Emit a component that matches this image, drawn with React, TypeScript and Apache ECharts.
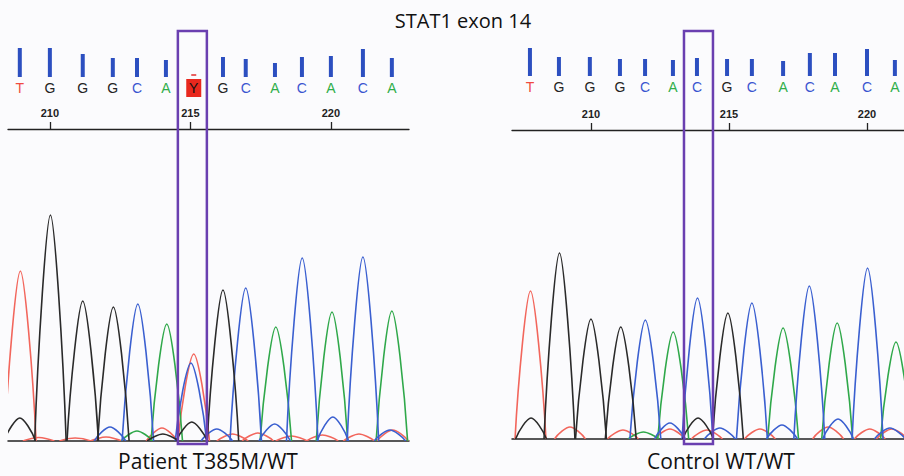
import React, { useEffect, useRef } from "react";
import * as echarts from "echarts";

// ---------- data ----------
const tickLabels = [210, 215, 220];

const leftBases = ["T", "G", "G", "G", "C", "A", "Y", "G", "C", "A", "C", "A", "C", "A"];
const leftBasePos = [208.93, 210.0, 211.17, 212.24, 213.1, 214.13, 215.12, 216.16, 216.97, 218.01, 218.97, 220.0, 221.14, 222.17];
const leftQuality = [58, 58, 46, 38, 38, 34, 0, 40, 36, 28, 40, 42, 56, 38];

const rightBases = ["T", "G", "G", "G", "C", "A", "C", "G", "C", "A", "C", "A", "C", "A"];
const rightBasePos = [207.79, 208.84, 209.96, 211.05, 211.96, 212.97, 213.84, 214.93, 215.83, 216.96, 217.93, 218.84, 220.0, 221.01];
const rightQuality = [56, 38, 38, 34, 34, 32, 36, 34, 34, 30, 46, 46, 54, 32];

const leftRange = [208.51, 222.78];
const rightRange = [207.14, 221.34];
const leftBox = [214.555, 215.587];
const rightBox = [213.37, 214.42];

// peaks: [position, intensity, half-width (optional)]
const leftT = [[208.95, 1700], [215.12, 870], [209.6, 35, 0.9], [210.9, 30, 0.8], [212.0, 40, 0.8], [213.99, 130, 0.5], [216.5, 70, 0.8], [217.4, 80, 0.8], [218.6, 50, 0.8], [219.7, 60, 0.8], [221.0, 70, 0.8], [222.2, 110, 0.6]];
const leftG = [[210.02, 2260], [211.17, 1400], [212.26, 1340], [216.16, 1510], [208.93, 230, 0.4], [215.05, 190, 0.45], [214.02, 70, 0.4]];
const leftC = [[213.13, 1370], [215.02, 780], [216.97, 1530], [218.98, 1830], [221.14, 1840], [212.14, 140, 0.4], [215.94, 120, 0.4], [218.0, 170, 0.45], [220.07, 240, 0.45], [222.1, 110, 0.4]];
const leftA = [[214.16, 1170], [218.04, 1140], [220.04, 1290], [222.17, 1300], [213.1, 100, 0.4]];

const rightT = [[207.81, 1480], [209.24, 120, 0.5], [211.16, 90, 0.6], [212.86, 100, 0.5], [214.2, 90, 0.7], [216.12, 100, 0.6], [218.59, 120, 0.5], [220.1, 100, 0.5], [220.9, 100, 0.5]];
const rightG = [[208.86, 1860], [210.0, 1200], [211.08, 1120], [214.96, 1260], [207.83, 210, 0.4], [213.88, 210, 0.45]];
const rightC = [[211.97, 1190], [213.86, 1410], [215.83, 1360], [217.91, 1530], [220.02, 1710], [212.86, 160, 0.45], [214.67, 110, 0.4], [216.92, 140, 0.4], [218.95, 200, 0.45], [220.83, 110, 0.4]];
const rightA = [[212.98, 1070], [216.96, 1110], [218.92, 1160], [221.05, 970], [211.9, 70, 0.4]];

// ---------- styling ----------
const traceColors: Record<string, string> = { A: "#2fa84a", C: "#3a5fd0", G: "#2a2a2a", T: "#f2665c" };
const letterColors: Record<string, string> = { A: "#2fae4a", C: "#3a55d0", G: "#222222", T: "#f04a40", Y: "#111111" };

function peakSeries(data: number[][], color: string, gridIdx: number) {
  return {
    type: "custom",
    xAxisIndex: gridIdx,
    yAxisIndex: gridIdx,
    clip: true,
    z: 3,
    encode: { x: 0, y: 1 },
    data,
    renderItem: (params: any, api: any) => {
      const x = api.value(0);
      const h = api.value(1);
      let w = api.value(2);
      if (w == null || isNaN(w)) w = 0.56;
      const p0 = api.coord([x - w, 0]);
      const pk = api.coord([x, h]);
      const p1 = api.coord([x + w, 0]);
      const dl = pk[0] - p0[0];
      const dr = p1[0] - pk[0];
      const hh = p0[1] - pk[1];
      const d =
        `M${p0[0]} ${p0[1]} C${p0[0] + 0.2 * dl} ${p0[1] - 0.4 * hh} ${pk[0] - 0.25 * dl} ${pk[1]} ${pk[0]} ${pk[1]} ` +
        `C${pk[0] + 0.25 * dr} ${pk[1]} ${p1[0] - 0.2 * dr} ${p1[1] - 0.4 * hh} ${p1[0]} ${p1[1]}`;
      return {
        type: "path",
        shape: { pathData: d },
        style: { stroke: color, fill: "none", lineWidth: 1.6 },
      };
    },
  };
}

function baseSeries(bases: string[], pos: number[], qual: number[], gridIdx: number) {
  return {
    type: "custom",
    xAxisIndex: gridIdx,
    yAxisIndex: gridIdx,
    encode: { x: 0, y: 1 },
    data: pos.map((p, i) => [p, qual[i]]),
    renderItem: (params: any, api: any) => {
      const i = params.dataIndex;
      const b = bases[i];
      const top = api.coord([api.value(0), api.value(1)]);
      const bot = api.coord([api.value(0), 0]);
      const children: any[] = [];
      if (api.value(1) > 0) {
        children.push({
          type: "rect",
          shape: { x: bot[0] - 2, y: top[1], width: 4, height: bot[1] - top[1] },
          style: { fill: "#2c4fc0" },
        });
      }
      if (b === "Y") {
        children.push({ type: "rect", shape: { x: bot[0] - 7.5, y: bot[1] + 2, width: 15, height: 18 }, style: { fill: "#e8281e" } });
        children.push({ type: "rect", shape: { x: bot[0] - 2.5, y: bot[1] - 3, width: 5, height: 2 }, style: { fill: "#e86060" } });
      }
      children.push({
        type: "text",
        style: {
          text: b,
          x: bot[0],
          y: bot[1] + 11,
          align: "center",
          verticalAlign: "middle",
          fill: letterColors[b],
          fontSize: 14,
          fontFamily: "Liberation Sans, Arial, sans-serif",
        },
      });
      return { type: "group", children };
    },
  };
}

function boxSeries(box: number[], gridIdx: number) {
  return {
    type: "custom",
    xAxisIndex: gridIdx,
    yAxisIndex: gridIdx,
    z: 10,
    encode: { x: [0, 1], y: [2, 3] },
    data: [[box[0], box[1], 0, 1]],
    renderItem: (params: any, api: any) => {
      const a = api.coord([api.value(0), api.value(3)]);
      const b = api.coord([api.value(1), api.value(2)]);
      return {
        type: "rect",
        shape: { x: a[0], y: a[1], width: b[0] - a[0], height: b[1] - a[1] },
        style: { fill: "none", stroke: "#6a3fb0", lineWidth: 2.5 },
      };
    },
  };
}

type PanelCfg = {
  left: number;
  width: number;
  range: number[];
  qualBottom: number;
  axisY: number;
  baseY: number;
  box: number[];
  bases: string[];
  pos: number[];
  qual: number[];
  T: number[][];
  G: number[][];
  C: number[][];
  A: number[][];
};

function buildPanel(p: number, c: PanelCfg) {
  const g0 = p * 4;
  const grids = [
    { left: c.left, width: c.width, top: c.qualBottom - 30, height: 30 },
    { left: c.left, width: c.width, top: c.axisY - 29, height: 29 },
    { left: c.left, width: c.width, top: c.baseY - 240, height: 240 },
    { left: c.left, width: c.width, top: 31, height: 413 },
  ];
  const hiddenX = (gi: number) => ({
    type: "value",
    gridIndex: gi,
    min: c.range[0],
    max: c.range[1],
    show: false,
  });
  const xAxes = [
    hiddenX(g0),
    {
      type: "value",
      gridIndex: g0 + 1,
      min: c.range[0],
      max: c.range[1],
      position: "bottom",
      axisLine: { show: true, lineStyle: { color: "#222", width: 1.3 } },
      axisTick: { show: true, inside: true, length: 7, customValues: tickLabels, lineStyle: { color: "#222", width: 1.3 } },
      axisLabel: {
        show: true,
        inside: true,
        margin: 11,
        customValues: tickLabels,
        fontSize: 11,
        fontWeight: "bold",
        color: "#222",
        fontFamily: "Liberation Sans, Arial, sans-serif",
      },
      splitLine: { show: false },
    },
    {
      type: "value",
      gridIndex: g0 + 2,
      min: c.range[0],
      max: c.range[1],
      position: "bottom",
      axisLine: { show: true, onZero: false, lineStyle: { color: "#222", width: 1.5 } },
      axisTick: { show: false },
      axisLabel: { show: false },
      splitLine: { show: false },
    },
    hiddenX(g0 + 3),
  ];
  const yAxes = [
    { type: "value", gridIndex: g0, min: 0, max: 60, show: false },
    { type: "value", gridIndex: g0 + 1, min: 0, max: 1, show: false },
    { type: "value", gridIndex: g0 + 2, min: 0, max: 2400, show: false },
    { type: "value", gridIndex: g0 + 3, min: 0, max: 1, show: false },
  ];
  const series = [
    baseSeries(c.bases, c.pos, c.qual, g0),
    peakSeries(c.T, traceColors.T, g0 + 2),
    peakSeries(c.A, traceColors.A, g0 + 2),
    peakSeries(c.C, traceColors.C, g0 + 2),
    peakSeries(c.G, traceColors.G, g0 + 2),
    boxSeries(c.box, g0 + 3),
  ];
  return { grids, xAxes, yAxes, series };
}

export default function App() {
  const ref = useRef<HTMLDivElement>(null);
  useEffect(() => {
    if (!ref.current) return;
    const chart = echarts.init(ref.current, null, { renderer: "svg" });
    const L = buildPanel(0, {
      left: 8, width: 401, range: leftRange, qualBottom: 77, axisY: 129, baseY: 441, box: leftBox,
      bases: leftBases, pos: leftBasePos, qual: leftQuality, T: leftT, G: leftG, C: leftC, A: leftA,
    });
    const R = buildPanel(1, {
      left: 512, width: 392, range: rightRange, qualBottom: 76, axisY: 130, baseY: 439, box: rightBox,
      bases: rightBases, pos: rightBasePos, qual: rightQuality, T: rightT, G: rightG, C: rightC, A: rightA,
    });
    const font = "Open Sans, Noto Sans, sans-serif";
    chart.setOption({
      animation: false,
      backgroundColor: "#fbfbfd",
      grid: [...L.grids, ...R.grids],
      xAxis: [...L.xAxes, ...R.xAxes],
      yAxis: [...L.yAxes, ...R.yAxes],
      series: [...L.series, ...R.series],
      graphic: [
        { type: "text", x: 463, y: 20, style: { text: "STAT1 exon 14", fontSize: 20, fontFamily: font, fill: "#111", align: "center", verticalAlign: "middle" } },
        { type: "text", x: 208, y: 461, style: { text: "Patient T385M/WT", fontSize: 21, fontFamily: font, fill: "#111", align: "center", verticalAlign: "middle" } },
        { type: "text", x: 721, y: 461, style: { text: "Control WT/WT", fontSize: 21, fontFamily: font, fill: "#111", align: "center", verticalAlign: "middle" } },
      ],
    });
    return () => chart.dispose();
  }, []);
  return <div ref={ref} style={{ position: "fixed", left: 0, top: 0, width: 904, height: 476 }} />;
}
